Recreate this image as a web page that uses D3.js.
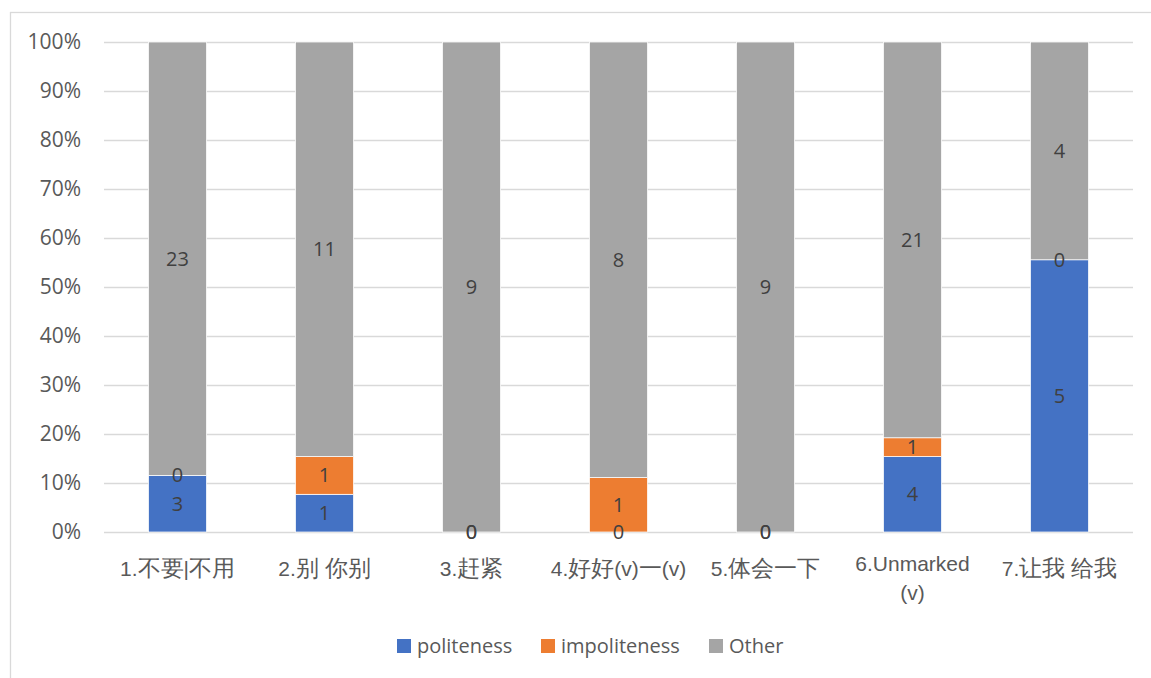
<!DOCTYPE html>
<html>
<head>
<meta charset="utf-8">
<script src="https://cdn.jsdelivr.net/npm/d3@7"></script>
<style>
  body { margin: 0; background: #fff; }
  svg { display: block; font-family: "Open Sans", "Noto Sans CJK SC", sans-serif; }
</style>
</head>
<body>
<svg id="chart" width="1151" height="678"></svg>
<script>
const categories = ["1.不要|不用", "2.别 你别", "3.赶紧", "4.好好(v)一(v)", "5.体会一下", "6.Unmarked (v)", "7.让我 给我"];
const seriesNames = ["politeness", "impoliteness", "Other"];
const politeness   = [3, 1, 0, 0, 0, 4, 5];
const impoliteness = [0, 1, 0, 1, 0, 1, 0];
const other        = [23, 11, 9, 8, 9, 21, 4];
const colors = ["#4472C4", "#ED7D31", "#A5A5A5"];
const yTicks = [0, 0.1, 0.2, 0.3, 0.4, 0.5, 0.6, 0.7, 0.8, 0.9, 1.0];

const rows = categories.map((c, i) => ({
  cat: c, politeness: politeness[i], impoliteness: impoliteness[i], Other: other[i]
}));

const svg = d3.select("#chart");
const plot = { left: 104, right: 1133, top: 42, bottom: 532 };

// outer frame
svg.append("rect").attr("x", 10.5).attr("y", 12.5).attr("width", 1200).attr("height", 700)
  .attr("fill", "none").attr("stroke", "#d9d9d9").attr("stroke-width", 1.3);

const x = d3.scaleBand().domain(categories).range([plot.left, plot.right]).padding(0);
const y = d3.scaleLinear().domain([0, 1]).range([plot.bottom, plot.top]);
const barW = x.bandwidth() * 0.395;

// gridlines + y labels
const yAxis = d3.axisLeft(y).tickValues(yTicks).tickFormat(d3.format(".0%"))
  .tickSize(-(plot.right - plot.left)).tickPadding(23);
const gy = svg.append("g").attr("transform", `translate(${plot.left},0)`).call(yAxis);
gy.select(".domain").remove();
gy.selectAll(".tick line").attr("stroke", "#d9d9d9").attr("stroke-width", 1.3);
gy.selectAll(".tick text").attr("fill", "#595959").style("font-size", "21px")
  .style("font-family", "'Open Sans', sans-serif");

// stacked bars
const stack = d3.stack().keys(seriesNames).offset(d3.stackOffsetExpand);
const layers = stack(rows);

const gLayers = svg.append("g").selectAll("g").data(layers).join("g")
  .attr("fill", (d, i) => colors[i]);
gLayers.selectAll("rect").data(d => d).join("rect")
  .attr("x", d => x(d.data.cat) + (x.bandwidth() - barW) / 2)
  .attr("width", barW)
  .attr("y", d => y(d[1]))
  .attr("height", d => y(d[0]) - y(d[1]))
  .attr("stroke", "#ffffff").attr("stroke-width", 0.75);

// data labels
const gLabels = svg.append("g");
layers.forEach((layer) => {
  gLabels.selectAll(null).data(layer).join("text")
    .attr("x", d => x(d.data.cat) + x.bandwidth() / 2)
    .attr("y", d => y((d[0] + d[1]) / 2))
    .attr("dy", "0.35em")
    .attr("text-anchor", "middle")
    .attr("fill", "#404040")
    .style("font-size", "20px")
    .text(d => d.data[layer.key]);
});

// x axis labels
const xAxis = d3.axisBottom(x).tickSize(0).tickPadding(0);
const gx = svg.append("g").attr("transform", `translate(0,${plot.bottom})`).call(xAxis);
gx.select(".domain").remove();
gx.selectAll(".tick text").attr("fill", "#595959").style("font-size", "21px")
  .attr("y", 44).attr("dy", "0").call(wrap, x.bandwidth() - 4);

function appendRuns(parent, str) {
  const parts = str.split(/([\u3000-\u9fff\uff00-\uffef]+)/).filter(s => s.length);
  parts.forEach(p => {
    const t = parent.append("tspan").text(p);
    if (/[\u3000-\u9fff\uff00-\uffef]/.test(p)) t.style("font-size", "23px");
  });
}

function wrap(texts, width) {
  texts.each(function() {
    const text = d3.select(this);
    const words = text.text().split(/\s+/);
    const yy = +text.attr("y");
    const lines = [];
    let line = [];
    words.forEach(w => {
      line.push(w);
      text.text(null);
      appendRuns(text, line.join(" "));
      if (this.getComputedTextLength() > width && line.length > 1) {
        line.pop();
        lines.push(line.join(" "));
        line = [w];
      }
    });
    lines.push(line.join(" "));
    text.text(null);
    const startY = lines.length > 1 ? yy - 5 : yy;
    lines.forEach((l, i) => {
      const ln = text.append("tspan").attr("x", 0).attr("y", startY + i * 29);
      appendRuns(ln, l);
    });
  });
}

// legend
const legendItems = [
  { name: "politeness", sx: 397, tx: 417 },
  { name: "impoliteness", sx: 541, tx: 561 },
  { name: "Other", sx: 709, tx: 729 }
];
const gLeg = svg.append("g");
legendItems.forEach((it) => {
  gLeg.append("rect").attr("x", it.sx).attr("y", 639).attr("width", 14).attr("height", 14)
    .attr("fill", colors[seriesNames.indexOf(it.name)]);
  gLeg.append("text").attr("x", it.tx).attr("y", 646).attr("dy", "0.35em")
    .attr("fill", "#595959").style("font-size", "20px").text(it.name);
});
</script>
</body>
</html>
